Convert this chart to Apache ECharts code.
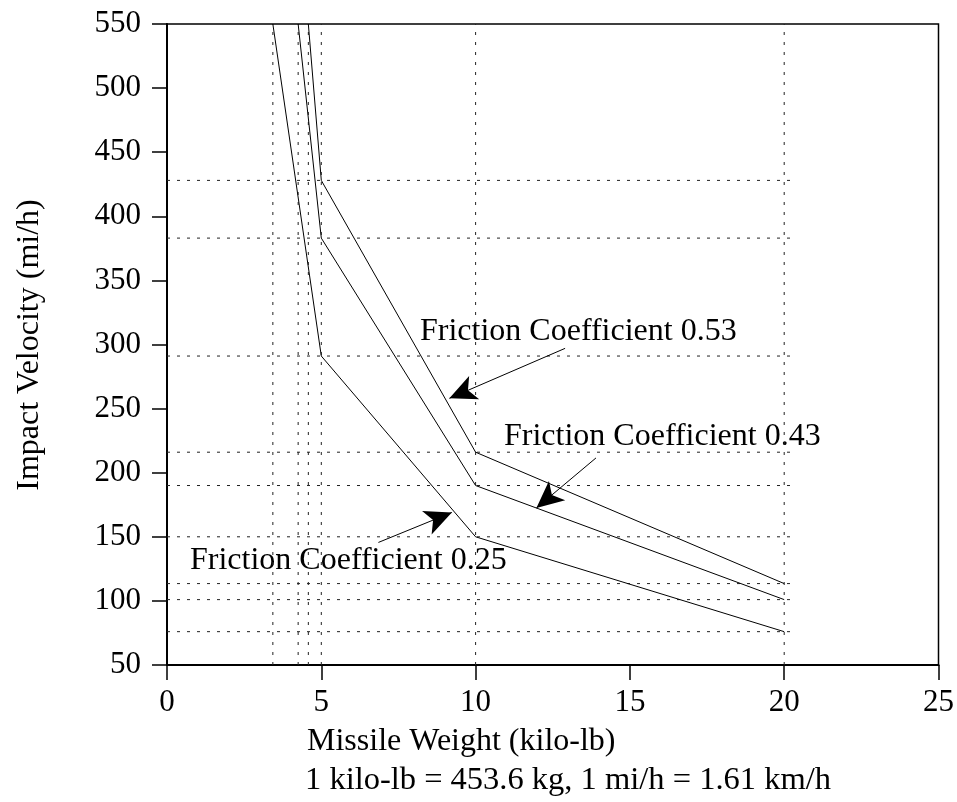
<!DOCTYPE html>
<html><head><meta charset="utf-8">
<script src="https://cdn.jsdelivr.net/npm/echarts@6/dist/echarts.min.js"></script>
<style>html,body{margin:0;padding:0;background:#fff}#c{width:957px;height:802px}</style>
</head><body><div id="c"></div>
<script>
// ---- data ----
const xTicks = [0, 5, 10, 15, 20, 25];
const yTicks = [50, 100, 150, 200, 250, 300, 350, 400, 450, 500, 550];
const coef053X = [4.58, 5, 10, 20];
const coef053Y = [550, 428, 216, 113.5];
const coef043X = [4.25, 5, 10, 20];
const coef043Y = [550, 383, 190, 101];
const coef025X = [3.43, 5, 10, 20];
const coef025Y = [550, 291, 150, 76];
const seriesNames = ['Friction Coefficient 0.53', 'Friction Coefficient 0.43', 'Friction Coefficient 0.25'];
// arrow [start, tip] in data units
const arrow053 = [[12.9, 297], [9.15, 258]];
const arrow043 = [[13.9, 211.5], [11.97, 172.5]];
const arrow025 = [[6.85, 145.6], [9.23, 169]];

const FONT = 'Liberation Serif';
const curves = [[coef053X, coef053Y, arrow053], [coef043X, coef043Y, arrow043], [coef025X, coef025Y, arrow025]];
const yMax = yTicks[yTicks.length - 1], yMin = yTicks[0];
// reference lines through curve break points
const vVals = [], hVals = [];
curves.forEach(([xs, ys]) => {
  xs.forEach(v => { if (!vVals.includes(v)) vVals.push(v); });
  ys.forEach(v => { if (v < yMax && !hVals.includes(v)) hVals.push(v); });
});
const hEnd = 20.25;
const dotted = { color: '#222', width: 1, type: [3, 7] };
const series = [];
vVals.forEach(v => series.push({ type: 'line', data: [[v, yMin], [v, yMax]], symbol: 'none', lineStyle: dotted, silent: true, z: 1 }));
hVals.forEach(v => series.push({ type: 'line', data: [[0, v], [hEnd, v]], symbol: 'none', lineStyle: dotted, silent: true, z: 1 }));
curves.forEach(([xs, ys, ar], i) => {
  series.push({
    name: seriesNames[i], type: 'line', symbol: 'none', z: 3,
    data: xs.map((x, k) => [x, ys[k]]),
    lineStyle: { color: '#000', width: 1 },
    markLine: {
      silent: true, animation: false,
      symbol: ['none', 'arrow'], symbolSize: [19, 27],
      label: { show: false },
      lineStyle: { color: '#000', width: 1, type: 'solid' },
      emphasis: { disabled: true },
      data: [[{ coord: ar[0] }, { coord: ar[1] }]]
    }
  });
});

const F = '32px "Liberation Serif"';
const chart = echarts.init(document.getElementById('c'), null, { renderer: 'canvas' });
chart.setOption({
  animation: false,
  backgroundColor: '#fff',
  grid: { left: 167, right: 14, top: 24, bottom: 137, show: true, borderColor: '#000', borderWidth: 1.5, backgroundColor: 'transparent' },
  xAxis: {
    type: 'value', min: xTicks[0], max: xTicks[xTicks.length - 1], interval: 5,
    axisLine: { show: true, onZero: false, lineStyle: { color: '#000', width: 2 } },
    axisTick: { show: true, inside: false, length: 15, lineStyle: { color: '#000', width: 1.5 } },
    axisLabel: { margin: 22, fontFamily: FONT, fontSize: 31, color: '#000' },
    splitLine: { show: false }
  },
  yAxis: {
    type: 'value', min: yMin, max: yMax, interval: 50,
    axisLine: { show: true, onZero: false, lineStyle: { color: '#000', width: 2 } },
    axisTick: { show: true, inside: false, length: 15, lineStyle: { color: '#000', width: 1.5 } },
    axisLabel: { margin: 26, fontFamily: FONT, fontSize: 31, color: '#000' },
    splitLine: { show: false }
  },
  series: series,
  graphic: [
    { type: 'text', x: 420, y: 332, style: { text: seriesNames[0], font: F, fill: '#000', align: 'left', verticalAlign: 'middle' } },
    { type: 'text', x: 504, y: 437, style: { text: seriesNames[1], font: F, fill: '#000', align: 'left', verticalAlign: 'middle' } },
    { type: 'text', x: 190, y: 561, style: { text: seriesNames[2], font: F, fill: '#000', align: 'left', verticalAlign: 'middle' } },
    { type: 'text', x: 307, y: 742, style: { text: 'Missile Weight (kilo-lb)', font: F, fill: '#000', align: 'left', verticalAlign: 'middle' } },
    { type: 'text', x: 305, y: 780, style: { text: '1 kilo-lb = 453.6 kg, 1 mi/h = 1.61 km/h', font: '32.5px "Liberation Serif"', fill: '#000', align: 'left', verticalAlign: 'middle' } },
    { type: 'text', x: 30, y: 345, rotation: Math.PI / 2, style: { text: 'Impact Velocity (mi/h)', font: F, fill: '#000', align: 'center', verticalAlign: 'middle' } }
  ]
});
</script></body></html>
